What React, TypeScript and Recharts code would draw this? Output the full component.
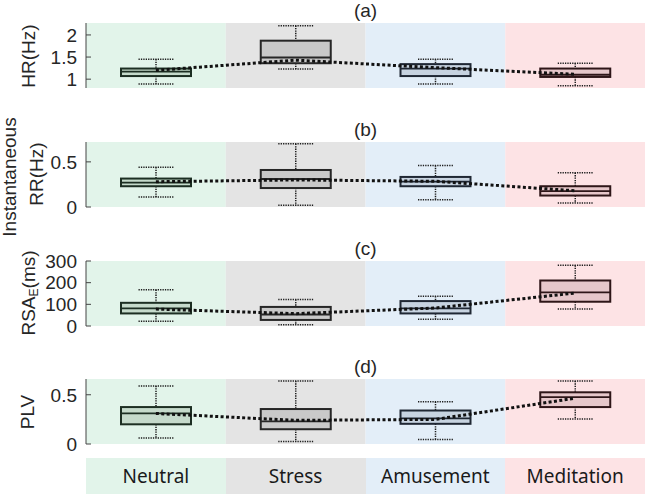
import React from 'react';
import {
  ComposedChart,
  Bar,
  Line,
  XAxis,
  YAxis,
  ReferenceArea,
} from 'recharts';

const CATEGORIES = ['Neutral', 'Stress', 'Amusement', 'Meditation'];

const BG_COLORS = ['#e2f4ea', '#e4e4e4', '#e3eef8', '#fde3e5'];
const BOX_FILLS = ['#c5dacb', '#c9c9c9', '#c7d3e0', '#e6c7ca'];
const BOX_EDGES = ['#1c2e22', '#262626', '#1f2733', '#2e1618'];

// (a) HR
const hrMin = [0.89, 1.23, 0.89, 0.85];
const hrQ1 = [1.07, 1.36, 1.07, 1.05];
const hrMedian = [1.17, 1.49, 1.24, 1.1];
const hrQ3 = [1.24, 1.87, 1.34, 1.24];
const hrMax = [1.45, 2.21, 1.45, 1.36];
const hrMean = [1.2, 1.43, 1.26, 1.11];

// (b) RR
const rrMin = [0.11, 0.02, 0.08, 0.045];
const rrQ1 = [0.23, 0.21, 0.23, 0.127];
const rrMedian = [0.27, 0.31, 0.28, 0.175];
const rrQ3 = [0.315, 0.41, 0.333, 0.23];
const rrMax = [0.44, 0.7, 0.46, 0.38];
const rrMean = [0.28, 0.3, 0.285, 0.18];

// (c) RSA_E
const rsaMin = [22, 6, 31, 78];
const rsaQ1 = [58, 28, 58, 112];
const rsaMedian = [81, 53, 81, 155];
const rsaQ3 = [107, 88, 115, 210];
const rsaMax = [167, 122, 137, 280];
const rsaMean = [78, 57, 83, 152];

// (d) PLV
const plvMin = [0.06, 0.025, 0.045, 0.255];
const plvQ1 = [0.2, 0.15, 0.205, 0.375];
const plvMedian = [0.31, 0.23, 0.26, 0.475];
const plvQ3 = [0.375, 0.355, 0.34, 0.525];
const plvMax = [0.59, 0.64, 0.43, 0.64];
const plvMean = [0.31, 0.24, 0.25, 0.465];

const GRID_TICKS = [0, 0.5, 1, 1.5, 2, 2.5, 3, 3.5, 4];
const AXIS_COLOR = '#444';
const TEXT_COLOR = '#262626';
const SANS = '"Liberation Sans", Arial, sans-serif';

const buildRows = (
  min: number[],
  q1: number[],
  med: number[],
  q3: number[],
  max: number[],
  mean: number[]
) =>
  CATEGORIES.map((name, i) => ({
    name,
    pos: i + 0.5,
    range: [min[i], max[i]],
    min: min[i],
    q1: q1[i],
    median: med[i],
    q3: q3[i],
    max: max[i],
    mean: mean[i],
  }));

const BoxShape = (props: any) => {
  const { x, y, width, height, payload, index } = props;
  if (!payload || height == null) return null;
  const { min, q1, median, q3, max } = payload;
  const py = (v: number) => y + ((max - v) / (max - min)) * height;
  const cx = x + width / 2;
  const capHalf = width / 4;
  const edge = BOX_EDGES[index] || '#222';
  const dotted = { stroke: '#1e1e1e', strokeWidth: 1.5, strokeDasharray: '1.3 1.1' };
  return (
    <g>
      <line x1={cx} x2={cx} y1={py(max)} y2={py(q3)} {...dotted} />
      <line x1={cx} x2={cx} y1={py(q1)} y2={py(min)} {...dotted} />
      <line x1={cx - capHalf} x2={cx + capHalf} y1={py(max)} y2={py(max)} {...dotted} />
      <line x1={cx - capHalf} x2={cx + capHalf} y1={py(min)} y2={py(min)} {...dotted} />
      <rect
        x={x}
        y={py(q3)}
        width={width}
        height={py(q1) - py(q3)}
        fill={BOX_FILLS[index]}
        stroke={edge}
        strokeWidth={2}
      />
      <line x1={x} x2={x + width} y1={py(median)} y2={py(median)} stroke={edge} strokeWidth={1.8} />
    </g>
  );
};

interface PanelProps {
  top: number;
  title: string;
  rows: any[];
  domain: [number, number];
  ticks: number[];
}

function Panel({ top, title, rows, domain, ticks }: PanelProps) {
  return (
    <div style={{ position: 'absolute', left: 0, top, width: 647, height: 100 }}>
      <ComposedChart
        width={647}
        height={100}
        data={rows}
        margin={{ top: 23, right: 2, bottom: 0, left: 0 }}
      >
        <XAxis
          xAxisId="grid"
          type="number"
          dataKey="pos"
          domain={[0, 4]}
          ticks={GRID_TICKS}
          interval={0}
          height={12}
          tickSize={-4}
          tickFormatter={() => ''}
          axisLine={{ stroke: AXIS_COLOR }}
          tickLine={{ stroke: AXIS_COLOR }}
          allowDataOverflow
        />
        <XAxis xAxisId="cat" dataKey="name" hide />
        <YAxis
          type="number"
          domain={domain}
          ticks={ticks}
          interval={0}
          width={86}
          tickSize={-5}
          tickMargin={14}
          allowDataOverflow
          axisLine={{ stroke: AXIS_COLOR }}
          tickLine={{ stroke: AXIS_COLOR }}
          tick={{ fontSize: 19, fill: TEXT_COLOR, fontFamily: SANS }}
        />
        {CATEGORIES.map((c, i) => (
          <ReferenceArea
            key={c}
            xAxisId="grid"
            x1={i}
            x2={i + 1}
            fill={BG_COLORS[i]}
            fillOpacity={1}
            stroke="none"
          />
        ))}
        <Bar
          xAxisId="cat"
          dataKey="range"
          barSize={70}
          shape={<BoxShape />}
          isAnimationActive={false}
        />
        <Line
          xAxisId="cat"
          type="linear"
          dataKey="mean"
          stroke="#111"
          strokeWidth={3}
          strokeDasharray="3 2.4"
          dot={false}
          activeDot={false}
          isAnimationActive={false}
        />
      </ComposedChart>
      <div
        style={{
          position: 'absolute',
          left: 365.5,
          top: 11,
          transform: 'translate(-50%, -50%)',
          fontFamily: SANS,
          fontSize: 19,
          color: TEXT_COLOR,
          whiteSpace: 'nowrap',
        }}
      >
        {title}
      </div>
    </div>
  );
}

function VLabel({ cx, cy, children }: { cx: number; cy: number; children: React.ReactNode }) {
  return (
    <div
      style={{
        position: 'absolute',
        left: cx,
        top: cy,
        transform: 'translate(-50%, -50%) rotate(-90deg)',
        fontFamily: SANS,
        fontSize: 19,
        color: TEXT_COLOR,
        whiteSpace: 'nowrap',
        lineHeight: 1,
      }}
    >
      {children}
    </div>
  );
}

export default function App() {
  const hrRows = buildRows(hrMin, hrQ1, hrMedian, hrQ3, hrMax, hrMean);
  const rrRows = buildRows(rrMin, rrQ1, rrMedian, rrQ3, rrMax, rrMean);
  const rsaRows = buildRows(rsaMin, rsaQ1, rsaMedian, rsaQ3, rsaMax, rsaMean);
  const plvRows = buildRows(plvMin, plvQ1, plvMedian, plvQ3, plvMax, plvMean);

  return (
    <div
      style={{
        position: 'absolute',
        left: 0,
        top: 0,
        width: 647,
        height: 496,
        background: '#fff',
        overflow: 'hidden',
      }}
    >
      <Panel top={0} title="(a)" rows={hrRows} domain={[0.8, 2.27]} ticks={[1, 1.5, 2]} />
      <Panel top={119} title="(b)" rows={rrRows} domain={[0, 0.72]} ticks={[0, 0.5]} />
      <Panel top={238} title="(c)" rows={rsaRows} domain={[0, 300]} ticks={[0, 100, 200, 300]} />
      <Panel top={356} title="(d)" rows={plvRows} domain={[0, 0.66]} ticks={[0, 0.5]} />

      <VLabel cx={28} cy={56}>HR(Hz)</VLabel>
      <VLabel cx={9} cy={177}>Instantaneous</VLabel>
      <VLabel cx={36} cy={174}>RR(Hz)</VLabel>
      <VLabel cx={29} cy={293}>
        <span>
          RSA<sub style={{ fontSize: 12, verticalAlign: -3 }}>E</sub>(ms)
        </span>
      </VLabel>
      <VLabel cx={27} cy={412}>PLV</VLabel>

      <div
        style={{
          position: 'absolute',
          left: 86,
          top: 458,
          width: 559,
          height: 36,
          display: 'flex',
        }}
      >
        {CATEGORIES.map((c, i) => (
          <div
            key={c}
            style={{
              flex: 1,
              background: BG_COLORS[i],
              display: 'flex',
              alignItems: 'center',
              justifyContent: 'center',
              fontFamily: '"Noto Sans", sans-serif',
              fontSize: 19,
              color: '#1a1a1a',
            }}
          >
            {c}
          </div>
        ))}
      </div>
    </div>
  );
}
